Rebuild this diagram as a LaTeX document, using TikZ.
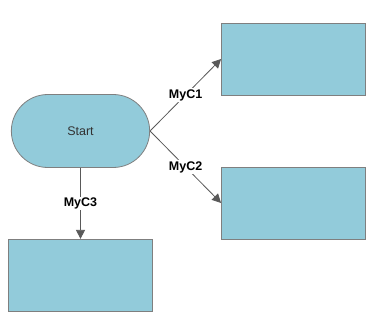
\documentclass[tikz,border=0pt]{standalone}
\usepackage{fontspec}
\setmainfont{Liberation Sans}
\definecolor{boxfill}{HTML}{92CBDA}
\definecolor{boxline}{HTML}{7F7F7F}
\definecolor{conn}{HTML}{595959}
\definecolor{ink}{HTML}{333333}
\usetikzlibrary{arrows.meta,positioning,shapes.misc}
\tikzset{
  term/.style={draw=boxline,fill=boxfill,rounded rectangle,line width=0.8pt,
               minimum width=145pt,minimum height=73pt,text=ink,
               font=\fontsize{12.5}{15}\selectfont},
  box/.style={draw=boxline,fill=boxfill,line width=0.8pt,
              minimum width=144pt,minimum height=72pt},
  arr/.style={-{Triangle[length=9pt,width=9pt]},line width=0.8pt,conn},
  lbl/.style={font=\bfseries\fontsize{12.5}{15}\selectfont,midway,fill=white,
              inner sep=1pt,text=black}
}

\begin{document}
\begin{tikzpicture}[x=1pt,y=1pt]
    \useasboundingbox (0,0) rectangle (382,-324);
    \node[term] (start) at (80.5,-131) {Start};
    \node[box,right=71pt of start,yshift=72pt] (myc1) {};
    \node[box,right=71pt of start,yshift=-72pt] (myc2) {};
    \node[box,below=71pt of start] (myc3) {};
    \draw[arr] (start.east) -- node[lbl]{MyC1} (myc1.west);
    \draw[arr] (start.east) -- node[lbl]{MyC2} (myc2.west);
    \draw[arr] (start) -- node[lbl]{MyC3} (myc3);
  \end{tikzpicture}
\end{document}
